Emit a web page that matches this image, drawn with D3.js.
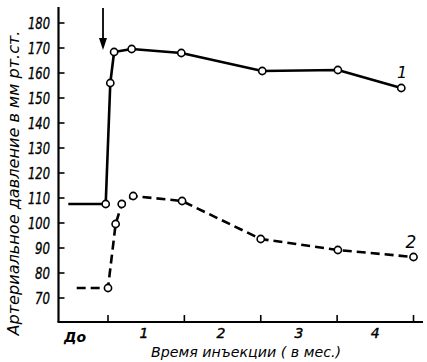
<!DOCTYPE html>
<html><head><meta charset="utf-8">
<script src="https://cdn.jsdelivr.net/npm/d3@7"></script>
<style>body{margin:0;background:#fff}svg{display:block}</style>
</head><body>
<svg id="c" width="427" height="362"></svg>
<script>
// Data (x in months after injection; negative = "До")
const series1X = [-0.52, -0.03, 0.03, 0.08, 0.31, 0.96, 2.02, 3.01, 3.84];
const series1Y = [107.6, 107.6, 156, 168.4, 169.6, 168, 160.8, 161.2, 154];
const series1Markers = [false, true, true, true, true, true, true, true, true];
const series2X = [-0.41, 0, 0.10, 0.18, 0.33, 0.97, 2.0, 3.01, 4.0];
const series2Y = [74, 74, 99.6, 107.6, 110.8, 108.8, 93.6, 89.2, 86.4];
const series2Markers = [false, true, true, true, true, true, true, true, true];
const yTicks = [70, 80, 90, 100, 110, 120, 130, 140, 150, 160, 170, 180];
const xTicks = [0, 1, 2, 3, 4];
const xTickLabels = ["До", "1", "2", "3", "4"];
const xLabelPos = [-0.43, 0.47, 1.48, 2.5, 3.5];
const yTitle = "Артериальное давление в мм рт.ст.";
const xTitle = "Время инъекции ( в мес.)";

const svg = d3.select("#c");
const x = d3.scaleLinear().domain([0, 4]).range([108, 413.5]);
const y = d3.scaleLinear().domain([70, 180]).range([298, 23]);
const font = "'DejaVu Sans', 'Liberation Sans', sans-serif";

// axes frame
const axisY = 322, axisX = 58.5;
svg.append("line").attr("x1", axisX).attr("x2", axisX).attr("y1", 7).attr("y2", axisY)
  .attr("stroke", "#000").attr("stroke-width", 2.2);
svg.append("line").attr("x1", axisX - 1).attr("x2", 423).attr("y1", axisY).attr("y2", axisY)
  .attr("stroke", "#000").attr("stroke-width", 2.2);

// y ticks
svg.selectAll(".yt").data(yTicks).enter().append("line")
  .attr("x1", axisX).attr("x2", axisX + 6).attr("y1", d => y(d)).attr("y2", d => y(d))
  .attr("stroke", "#000").attr("stroke-width", 1.6);
svg.selectAll(".yl").data(yTicks).enter().append("text")
  .attr("x", 50).attr("y", d => y(d) + 5.5).attr("text-anchor", "end")
  .attr("font-family", font).attr("font-style", "italic").attr("font-size", 15.5)
  .attr("stroke", "#000").attr("stroke-width", 0.35)
  .attr("textLength", d => d >= 100 ? 22 : 15).attr("lengthAdjust", "spacingAndGlyphs")
  .text(d => d);

// x ticks
svg.selectAll(".xt").data(xTicks).enter().append("line")
  .attr("x1", d => x(d)).attr("x2", d => x(d)).attr("y1", axisY).attr("y2", axisY - 7)
  .attr("stroke", "#000").attr("stroke-width", 1.6);
svg.selectAll(".xl").data(xTickLabels).enter().append("text")
  .attr("x", (d, i) => x(xLabelPos[i])).attr("y", (d, i) => i === 0 ? 342 : 338)
  .attr("text-anchor", "middle")
  .attr("font-family", font).attr("font-style", "italic").attr("font-size", 14)
  .attr("font-weight", (d, i) => i === 0 ? "bold" : "normal")
  .attr("stroke", "#000").attr("stroke-width", (d, i) => i === 0 ? 0 : 0.4)
  .text(d => d);

// titles
svg.append("text").attr("transform", "translate(19,183) rotate(-90)")
  .attr("text-anchor", "middle").attr("font-family", font).attr("font-style", "italic")
  .attr("font-size", 15).attr("textLength", 305).attr("lengthAdjust", "spacingAndGlyphs")
  .text(yTitle);
svg.append("text").attr("x", 246).attr("y", 357)
  .attr("text-anchor", "middle").attr("font-family", font).attr("font-style", "italic")
  .attr("font-size", 14).attr("textLength", 190).attr("lengthAdjust", "spacingAndGlyphs")
  .text(xTitle);

// arrow
svg.append("line").attr("x1", 103).attr("x2", 103).attr("y1", 8).attr("y2", 40)
  .attr("stroke", "#000").attr("stroke-width", 1.8);
svg.append("path").attr("d", "M99,38 L107,38 L103,50 Z").attr("fill", "#000");

function drawSeries(xs, ys, markers, dash) {
  const pts = xs.map((v, i) => [v, ys[i], markers[i]]);
  const line = d3.line().x(d => x(d[0])).y(d => y(d[1]));
  svg.append("path").datum(pts).attr("d", line).attr("fill", "none")
    .attr("stroke", "#000").attr("stroke-width", 2.6)
    .attr("stroke-dasharray", dash).attr("stroke-linejoin", "round");
  svg.append("g").selectAll("circle").data(pts.filter(d => d[2])).enter().append("circle")
    .attr("cx", d => x(d[0])).attr("cy", d => y(d[1])).attr("r", 3.6)
    .attr("fill", "#fff").attr("stroke", "#000").attr("stroke-width", 1.6);
}
drawSeries(series1X, series1Y, series1Markers, null);
drawSeries(series2X, series2Y, series2Markers, "9,5");

// series labels
svg.append("text").attr("x", 402).attr("y", 78).attr("text-anchor", "middle")
  .attr("font-family", font).attr("font-style", "italic").attr("font-size", 16).text("1");
svg.append("text").attr("x", 411).attr("y", 248).attr("text-anchor", "middle")
  .attr("font-family", font).attr("font-style", "italic").attr("font-size", 17).text("2");
</script>
</body></html>
